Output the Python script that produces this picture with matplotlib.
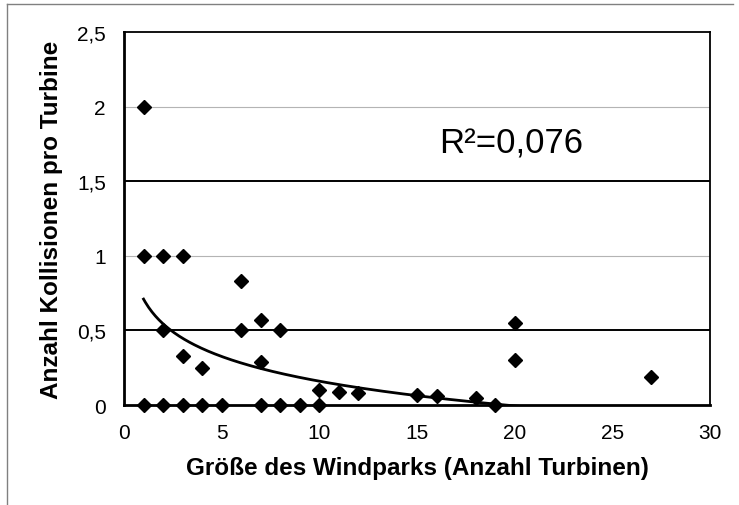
import matplotlib
import numpy as np

matplotlib.use("Agg")
import matplotlib.pyplot as plt
from matplotlib.lines import Line2D

plt.rcParams["font.family"] = ["Liberation Sans", "DejaVu Sans"]

# Windparks: Anzahl Turbinen vs. Kollisionen pro Turbine
park_size = [1, 1, 1, 2, 2, 2, 3, 3, 3, 4, 4, 5, 6, 6, 7, 7, 7, 8, 8, 9,
             10, 10, 11, 12, 15, 16, 18, 19, 20, 20, 27]
collisions = [2.0, 1.0, 0.0, 1.0, 0.5, 0.0, 1.0, 0.33, 0.0, 0.25, 0.0, 0.0,
              0.83, 0.5, 0.57, 0.29, 0.0, 0.5, 0.0, 0.0,
              0.10, 0.0, 0.09, 0.08, 0.065, 0.062, 0.05, 0.0, 0.55, 0.30, 0.185]

# logarithmic trend line y = a*ln(x) + b
trend_a = -0.239
trend_b = 0.71
r_squared = "0,076"

x_ticks = [0, 5, 10, 15, 20, 25, 30]
y_ticks = [0, 0.5, 1, 1.5, 2, 2.5]
y_tick_labels = ["0", "0,5", "1", "1,5", "2", "2,5"]

fig = plt.figure(figsize=(7.39, 5.06), dpi=100)
ax = fig.add_axes([0.1678, 0.1976, 0.793, 0.737])

# light grid at whole numbers, dark lines at the halves
for yv in (1, 2):
    ax.axhline(yv, color="#b4b4b4", linewidth=0.8, zorder=1)
for yv in (0.5, 1.5):
    ax.axhline(yv, color="black", linewidth=1.4, zorder=1)

tx = np.linspace(min(park_size), max(park_size), 300)
ax.plot(tx, trend_a * np.log(tx) + trend_b, color="black", linewidth=2.0, zorder=2)

ax.plot(park_size, collisions, linestyle="none", marker="D", markersize=7.5,
        color="black", zorder=3, clip_on=False)

ax.text(19.8, 1.69, f"R²={r_squared}", fontsize=25, ha="center", va="baseline")

ax.set_xlim(0, 30)
ax.set_ylim(0, 2.5)
ax.set_xticks(x_ticks)
ax.set_yticks(y_ticks)
ax.set_yticklabels(y_tick_labels)
ax.tick_params(length=0, labelsize=15, pad=13)

ax.spines["left"].set_linewidth(2.0)
ax.spines["bottom"].set_linewidth(2.0)
ax.spines["top"].set_linewidth(1.3)
ax.spines["right"].set_linewidth(1.3)

ax.set_xlabel("Größe des Windparks (Anzahl Turbinen)", fontsize=17.5,
              fontweight="bold", labelpad=10)
ax.set_ylabel("Anzahl Kollisionen pro Turbine", fontsize=17.5,
              fontweight="bold", labelpad=10)

# chart area border (top and left edges)
fig.add_artist(Line2D([0.0095, 0.0095], [0.0, 0.990], color="#808080",
                      linewidth=1.0, transform=fig.transFigure))
fig.add_artist(Line2D([0.0095, 0.992], [0.990, 0.990], color="#808080",
                      linewidth=1.0, transform=fig.transFigure))

fig.savefig("out.png", dpi=100)
